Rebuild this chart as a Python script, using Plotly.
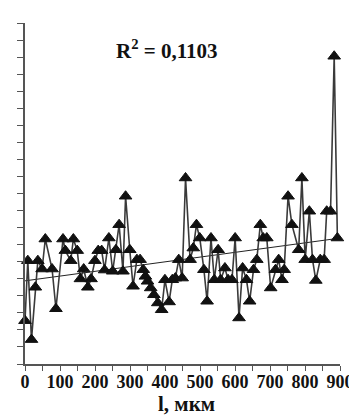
import numpy as np
import plotly.graph_objects as go

# distance, мкм
l_um = [0, 8, 18.5, 29.6, 36.7, 48.9, 58, 77.4, 88.4, 108.6, 115.2, 130.7, 138.2, 149.2,
        158.3, 167.7, 179.6, 188.7, 199.8, 209.2, 219.1, 227.4, 239.6, 250.6, 259.7, 268.9,
        279.9, 287.4, 299.3, 308.7, 319.7, 328.8, 337.9, 344.0, 350.1, 359.2, 368.3, 379.4,
        390.4, 399.8, 411.7, 420.8, 429.7, 439.3, 449.0, 458.7, 471.7, 480.8, 489.9, 499.3,
        511.2, 520.3, 531.4, 540.8, 551.8, 559.0, 571.2, 580.3, 591.3, 600.4, 611.5, 621.7,
        632.8, 641.9, 652.9, 662.3, 672.3, 680.6, 690.8, 701.9, 715.7, 724.8, 734.2, 740.5,
        751.6, 762.6, 782.0, 791.1, 800.5, 812.4, 821.5, 830.9, 843.6, 854.7, 862.0, 873.0,
        883.4, 892.5]
# measured quantity (arbitrary units)
values = [2.54, 6.06, 1.43, 4.50, 6.06, 5.57, 7.33, 5.57, 3.24, 7.33, 6.65, 6.06, 7.33, 6.65,
          4.99, 5.57, 4.50, 4.99, 6.06, 6.65, 6.65, 5.51, 7.39, 5.44, 6.70, 8.17,
          5.44, 9.84, 6.70, 4.56, 6.12, 6.12, 5.53, 5.14, 4.85, 4.46, 4.06, 3.58,
          3.18, 4.94, 3.64, 4.94, 5.04, 6.12, 5.04, 10.91, 6.12, 6.80, 8.17, 7.39,
          5.53, 3.68, 7.39, 4.94, 6.70, 4.94, 5.63, 4.94, 4.94, 7.39, 2.70, 5.63,
          4.94, 3.68, 5.53, 6.12, 8.17, 7.39, 7.39, 4.46, 5.53, 6.12, 4.94, 5.53,
          9.84, 8.17, 6.70, 10.91, 6.12, 8.96, 6.12, 4.90, 6.12, 6.12, 8.96, 8.96,
          18.05, 7.39]

x_major_ticks = list(range(0, 901, 100))
r2_label = "R<sup>2</sup> = 0,1103"
x_title = "l, мкм"

x = np.array(l_um, dtype=float)
y = np.array(values, dtype=float)
k, b = np.polyfit(x, y, 1)
tx = np.array([x.min(), x.max()])
ty = k * tx + b

SERIF = "Liberation Serif, Times New Roman, serif"

fig = go.Figure()
fig.add_trace(go.Scatter(x=tx, y=ty, mode="lines",
                         line=dict(color="#222222", width=1), hoverinfo="skip"))
fig.add_trace(go.Scatter(x=x, y=y, mode="lines+markers",
                         line=dict(color="#3a3a3a", width=1.6),
                         marker=dict(symbol="triangle-up", size=11, color="#111111",
                                     line=dict(color="#111111", width=1)),
                         cliponaxis=False))

fig.add_annotation(x=407, y=18.45, xref="x", yref="y", text="<b>" + r2_label + "</b>",
                   showarrow=False, font=dict(family=SERIF, size=21, color="#111111"))
fig.add_annotation(x=0.513, y=-0.118, xref="paper", yref="paper", text="<b>" + x_title + "</b>",
                   showarrow=False, yanchor="middle",
                   font=dict(family=SERIF, size=21, color="#111111"))

fig.update_layout(
    width=357, height=419,
    margin=dict(l=11, r=20, t=15, b=63),
    paper_bgcolor="white", plot_bgcolor="white",
    showlegend=False,
    xaxis=dict(range=[0, 900], tickmode="array", tickvals=x_major_ticks,
               ticks="outside", ticklen=5, tickwidth=1.2, tickcolor="#555555",
               minor=dict(dtick=50, tick0=0, ticks="outside", ticklen=5, tickwidth=1.2,
                          tickcolor="#555555", showgrid=False),
               showline=True, linecolor="#555555", linewidth=1.5,
               showgrid=False, zeroline=False, ticklabelstandoff=-4,
               tickfont=dict(family=SERIF, size=18, color="#111111", weight="bold")),
    yaxis=dict(range=[0, 20], dtick=1, ticks="outside", ticklen=6, tickwidth=1.2,
               tickcolor="#555555", showline=True, linecolor="#555555", linewidth=1.5,
               showgrid=False, zeroline=False, showticklabels=False),
)

fig.write_html("out.html")
